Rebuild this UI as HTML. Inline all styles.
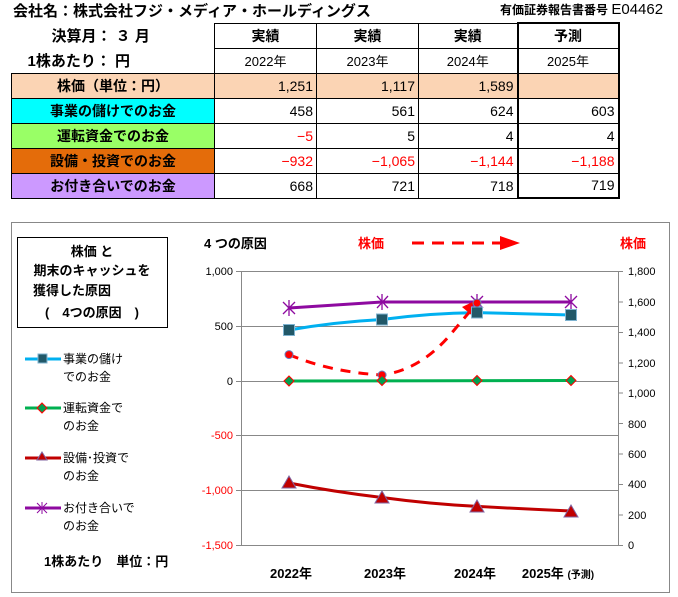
<!DOCTYPE html><html><head><meta charset="utf-8"><style>
body{margin:0;width:678px;height:597px;background:#fff;position:relative;font-family:"Liberation Sans","Noto Sans CJK JP",sans-serif;overflow:hidden}
.a{position:absolute;white-space:nowrap}
table{position:absolute;left:11px;top:22px;border-collapse:collapse;font-size:14px}
td{border:1px solid #000;height:25px;padding:0 3px;box-sizing:border-box}
td.n{text-align:right}
td.l{text-align:center;font-weight:bold;width:203px;font-size:14px}
td.c{width:102px}
.r{color:#f00}
</style></head><body>
<div class="a" style="left:13px;top:0px;font-size:15px;font-weight:bold">会社名：株式会社フジ・メディア・ホールディングス</div>
<div class="a" style="left:500px;top:1px;font-size:12px;font-weight:bold">有価証券報告書番号 <span style="font-size:15px;font-weight:normal">E04462</span></div>
<table>
<tr><td style="border:none;font-weight:bold;padding-left:40px;font-size:15px">決算月： ３ 月</td><td class="c" style="text-align:center;font-weight:bold">実績</td><td class="c" style="text-align:center;width:102px;font-weight:bold">実績</td><td class="c" style="text-align:center;width:99px;font-weight:bold">実績</td><td class="c" style="text-align:center;width:101px;border:2px solid #000;border-bottom:1px solid #000;font-weight:bold">予測</td></tr>
<tr><td style="border:none;border-bottom:1px solid #000;font-weight:bold;padding-left:16px;font-size:15px">1株あたり： 円</td><td style="text-align:center;font-size:13px">2022年</td><td style="text-align:center;font-size:13px">2023年</td><td style="text-align:center;font-size:13px">2024年</td><td style="text-align:center;font-size:13px;border-left:2px solid #000;border-right:2px solid #000">2025年</td></tr>
<tr style="background:#fbd4b4"><td class="l">株価（単位：円）</td><td class="n">1,251</td><td class="n">1,117</td><td class="n">1,589</td><td style="border-left:2px solid #000;border-right:2px solid #000"></td></tr>
<tr><td class="l" style="background:#00ffff">事業の儲けでのお金</td><td class="n">458</td><td class="n">561</td><td class="n">624</td><td class="n" style="border-left:2px solid #000;border-right:2px solid #000">603</td></tr>
<tr><td class="l" style="background:#99ff66">運転資金でのお金</td><td class="n r">−5</td><td class="n">5</td><td class="n">4</td><td class="n" style="border-left:2px solid #000;border-right:2px solid #000">4</td></tr>
<tr><td class="l" style="background:#e46c0a">設備・投資でのお金</td><td class="n r">−932</td><td class="n r">−1,065</td><td class="n r">−1,144</td><td class="n r" style="border-left:2px solid #000;border-right:2px solid #000">−1,188</td></tr>
<tr><td class="l" style="background:#cc99ff">お付き合いでのお金</td><td class="n">668</td><td class="n">721</td><td class="n">718</td><td class="n" style="border-left:2px solid #000;border-right:2px solid #000;border-bottom:2px solid #000">719</td></tr>
</table>

<svg class="a" style="left:0;top:0" width="678" height="597" font-family="Liberation Sans, Noto Sans CJK JP, sans-serif">
<rect x="11.5" y="222.5" width="658" height="370" fill="none" stroke="#888"/>
<rect x="17.5" y="237.5" width="150" height="90" fill="#fff" stroke="#000"/>
<g font-size="13" font-weight="bold" text-anchor="middle">
<text x="92" y="256">株価 と</text><text x="92" y="275">期末のキャッシュを</text>
<text x="72" y="295">獲得した原因</text><text x="92" y="317">(　4つの原因　)</text></g>
<g stroke="#888">
<line x1="236" y1="271.5" x2="618" y2="271.5"/><line x1="236" y1="326.5" x2="618" y2="326.5"/>
<line x1="236" y1="381.5" x2="618" y2="381.5"/><line x1="236" y1="435.5" x2="618" y2="435.5"/>
<line x1="236" y1="490.5" x2="618" y2="490.5"/><line x1="236" y1="545.5" x2="618" y2="545.5"/>
<line x1="241.5" y1="271" x2="241.5" y2="545"/><line x1="618.5" y1="271" x2="618.5" y2="545"/>
<line x1="618" y1="271.5" x2="623" y2="271.5"/><line x1="618" y1="302" x2="623" y2="302"/><line x1="618" y1="332.5" x2="623" y2="332.5"/><line x1="618" y1="363" x2="623" y2="363"/><line x1="618" y1="393" x2="623" y2="393"/><line x1="618" y1="423.5" x2="623" y2="423.5"/><line x1="618" y1="454" x2="623" y2="454"/><line x1="618" y1="484.5" x2="623" y2="484.5"/><line x1="618" y1="515" x2="623" y2="515"/><line x1="618" y1="545.5" x2="623" y2="545.5"/>
</g>
<g font-size="11" text-anchor="end">
<text x="233" y="275">1,000</text><text x="233" y="330">500</text><text x="233" y="385">0</text>
<text x="233" y="439" fill="#f00">-500</text><text x="233" y="494" fill="#f00">-1,000</text><text x="233" y="549" fill="#f00">-1,500</text></g>
<g font-size="11" text-anchor="start">
<text x="628" y="275">1,800</text><text x="628" y="306">1,600</text><text x="628" y="336">1,400</text><text x="628" y="367">1,200</text><text x="628" y="397">1,000</text><text x="628" y="428">800</text><text x="628" y="458">600</text><text x="628" y="488">400</text><text x="628" y="519">200</text><text x="628" y="549">0</text></g>
<text x="204" y="248" font-size="13" font-weight="bold">4 つの原因</text>
<text x="358" y="248" font-size="13" font-weight="bold" fill="#f00">株価</text>
<text x="620" y="248" font-size="13" font-weight="bold" fill="#f00">株価</text>
<line x1="412" y1="243" x2="500" y2="243" stroke="#f00" stroke-width="3" stroke-dasharray="12,8"/>
<polygon points="500,236 520,243 500,250" fill="#f00"/>
<path d="M289,308 L382,302 L477,302 L571,302" stroke="#8e0aa0" stroke-width="3" fill="none"/>
<path d="M289,330 Q335,322 382,319.5 Q430,313 477,312.6 L571,315" stroke="#00b0f0" stroke-width="3" fill="none"/>
<path d="M289,381 L571,380.5" stroke="#00b050" stroke-width="3" fill="none"/>
<path d="M289,483 Q335,492 382,497.5 Q430,504 477,506.4 Q525,509 571,511" stroke="#c00000" stroke-width="3" fill="none"/>
<path d="M289,354.6 Q330,372 382,375 Q420,370 450,335 L477,303" stroke="#f00" stroke-width="3" fill="none" stroke-dasharray="10,8"/>
<polygon points="462,307 481,298 474,317" fill="#f00"/>
<g stroke="#8e0aa0" stroke-width="1.3">
<path d="M283,302l12,12M295,302l-12,12M289,300v16M377,296l11,12M388,296l-11,12M382,294v16M471,296l12,12M483,296l-12,12M477,294v16M565,296l12,12M577,296l-12,12M571,294v16"/></g>
<g fill="#215868" stroke="#7fb3d0"><rect x="283.5" y="324.5" width="11" height="11"/><rect x="376.5" y="314" width="11" height="11"/><rect x="471.5" y="307" width="11" height="11"/><rect x="565.5" y="309.5" width="11" height="11"/></g>
<g fill="#f00" stroke="#6680c0"><circle cx="289" cy="354.6" r="4"/><circle cx="382" cy="375" r="4"/><circle cx="477" cy="303" r="4"/></g>
<g fill="#00a050" stroke="#f00"><path d="M289,376l5,5l-5,5l-5,-5z"/><path d="M382,375.5l5,5l-5,5l-5,-5z"/><path d="M477,375.5l5,5l-5,5l-5,-5z"/><path d="M571,375.5l5,5l-5,5l-5,-5z"/></g>
<g fill="#c00000" stroke="#8064a2"><path d="M289,476l7,12h-14z"/><path d="M382,491l7,12h-14z"/><path d="M477,500l7,12h-14z"/><path d="M571,505l7,12h-14z"/></g>
<g font-size="12">
<line x1="25" y1="359" x2="61" y2="359" stroke="#00b0f0" stroke-width="3"/><rect x="38" y="354" width="9" height="9" fill="#215868" stroke="#7fb3d0"/>
<text x="63" y="363">事業の儲け</text><text x="63" y="381">でのお金</text>
<line x1="25" y1="408" x2="61" y2="408" stroke="#00b050" stroke-width="3"/><path d="M42,403l5,5l-5,5l-5,-5z" fill="#00a050" stroke="#f00"/>
<text x="63" y="412">運転資金で</text><text x="63" y="430">のお金</text>
<line x1="25" y1="458" x2="61" y2="458" stroke="#c00000" stroke-width="3"/><path d="M42,452l5,8h-10z" fill="#c00000" stroke="#8064a2"/>
<text x="63" y="462">設備･投資で</text><text x="63" y="480">のお金</text>
<line x1="25" y1="508" x2="61" y2="508" stroke="#8e0aa0" stroke-width="3"/><path d="M37,503l10,10M47,503l-10,10M42,502v12" stroke="#8e0aa0"/>
<text x="63" y="512">お付き合いで</text><text x="63" y="530">のお金</text></g>
<text x="44" y="566" font-size="13" font-weight="bold">1株あたり　単位：円</text>
<g font-size="13" font-weight="bold" text-anchor="middle">
<text x="291" y="578">2022年</text><text x="385" y="578">2023年</text><text x="475" y="578">2024年</text><text x="558" y="578">2025年 <tspan font-size="10">(予測)</tspan></text></g>
</svg>
</body></html>
